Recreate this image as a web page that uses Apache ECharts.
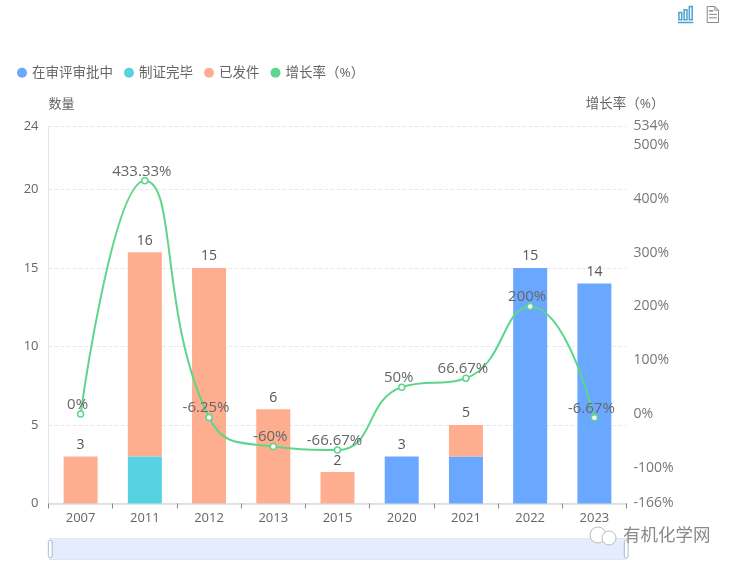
<!DOCTYPE html>
<html>
<head>
<meta charset="utf-8">
<style>html,body{margin:0;padding:0;background:#fff}#c{width:733px;height:563px}</style>
<script src="https://cdn.jsdelivr.net/npm/echarts@6/dist/echarts.min.js"></script>
</head>
<body>
<div id="c"></div>
<script>
const years = ['2007','2011','2012','2013','2015','2020','2021','2022','2023'];
const reviewing = [null,null,null,null,null,3,3,15,14];
const certified = [null,3,null,null,null,null,null,null,null];
const issued = [3,13,15,6,2,null,2,null,null];
const totals = [3,16,15,6,2,3,5,15,14];
const growth = [0,433.33,-6.25,-60,-66.67,50,66.67,200,-6.67];
const growthTicks = [-166,-100,0,100,200,300,400,500,534];

const font = '"Open Sans","Noto Sans CJK SC",sans-serif';
const chart = echarts.init(document.getElementById('c'));
const barSeries = (name, data, color) => ({
  name, type:'bar', stack:'a', data, barWidth:34, itemStyle:{color}, yAxisIndex:0
});
chart.setOption({
  animation:false,
  textStyle:{fontFamily:font},
  color:['#6aa8ff','#56d3e3','#ffad8f','#5dd68b'],
  legend:{
    left:12, top:61, icon:'circle', itemWidth:10, itemHeight:10, itemGap:11,
    textStyle:{color:'#666',fontSize:13.5,fontFamily:font},
    data:['在审评审批中','制证完毕','已发件',{name:'增长率（%）',itemStyle:{color:'#5dd68b',borderWidth:0}}]
  },
  toolbox:{
    right:-3, top:-11, itemSize:16, itemGap:9,
    feature:{
      magicType:{type:['bar'],iconStyle:{borderColor:'#4aa3cf',borderWidth:1.5}},
      dataView:{iconStyle:{borderColor:'#888'}}
    }
  },
  grid:{left:48.5,right:106.5,top:126.5,bottom:59.5},
  xAxis:{
    type:'category', data:years,
    axisLine:{lineStyle:{color:'#d5dbdb',width:1.5}},
    axisTick:{show:true,length:5,lineStyle:{color:'#888'}},
    axisLabel:{color:'#666',fontSize:13,margin:8}
  },
  yAxis:[{
    type:'value', name:'数量', min:0, max:24, interval:5,
    nameLocation:'end', nameGap:16,
    nameTextStyle:{color:'#666',fontSize:13,align:'left'},
    axisLine:{show:true,lineStyle:{color:'#e0e6e6'}},
    axisTick:{show:false},
    axisLabel:{color:'#666',fontSize:13,margin:10},
    splitLine:{show:true,lineStyle:{type:'dashed',color:'#e6e9ee'}}
  },{
    type:'value', name:'增长率（%）', min:-166, max:534, position:'right',
    nameLocation:'end', nameGap:16,
    nameTextStyle:{color:'#666',fontSize:13.5,align:'right',padding:[0,-38,0,0]},
    axisLine:{show:false},
    axisTick:{show:false},
    splitLine:{show:false},
    axisLabel:{color:'#777',fontSize:14,margin:7,formatter:'{value}%',customValues:growthTicks,hideOverlap:false}
  }],
  dataZoom:[{
    type:'slider', xAxisIndex:0, start:0, end:100, left:48.5, right:106.5, bottom:3, height:22,
    showDetail:false, showDataShadow:false, brushSelect:false,
    backgroundColor:'#e6edfc', borderColor:'#dfe6f7',
    fillerColor:'rgba(230,237,252,0.3)',
    handleIcon:'path://M1.5,0 h1 a1.5,1.5 0 0 1 1.5,1.5 v15 a1.5,1.5 0 0 1 -1.5,1.5 h-1 a1.5,1.5 0 0 1 -1.5,-1.5 v-15 a1.5,1.5 0 0 1 1.5,-1.5 z',
    handleSize:'78%',
    handleStyle:{color:'#fff',borderColor:'#a9b8d4'},
    moveHandleSize:0
  }],
  series:[
    barSeries('在审评审批中', reviewing, '#6aa8ff'),
    barSeries('制证完毕', certified, '#56d3e3'),
    barSeries('已发件', issued, '#ffad8f'),
    {
      name:'合计', type:'line', data:totals, yAxisIndex:0, symbol:'circle', symbolSize:1, silent:true,
      lineStyle:{color:'rgba(0,0,0,0)',width:0}, itemStyle:{color:'rgba(0,0,0,0)'},
      label:{show:true,position:'top',distance:4,color:'#555',fontSize:14}, z:3
    },
    {
      name:'增长率（%）', type:'line', data:growth, yAxisIndex:1, smooth:true,
      symbol:'circle', symbolSize:6, showSymbol:true,
      lineStyle:{color:'#5dd68b',width:2},
      itemStyle:{color:'#fff',borderColor:'#5dd68b',borderWidth:1.5},
      label:{show:true,position:'top',distance:1,offset:[-3,3],color:'#666',fontSize:15,
        formatter:p=>p.value+'%'}, z:5
    }
  ],
  graphic:[
    {type:'circle',shape:{cx:598,cy:535,r:8},style:{fill:'#fff',stroke:'#bbb',lineWidth:1},z:100},
    {type:'circle',shape:{cx:609,cy:538,r:7},style:{fill:'#fff',stroke:'#bbb',lineWidth:1},z:101},
    {type:'text',left:623,top:526,style:{text:'有机化学网',fill:'#8a8a8a',font:'17.5px "Noto Sans CJK SC"'},z:100}
  ]
});
</script>
</body>
</html>
